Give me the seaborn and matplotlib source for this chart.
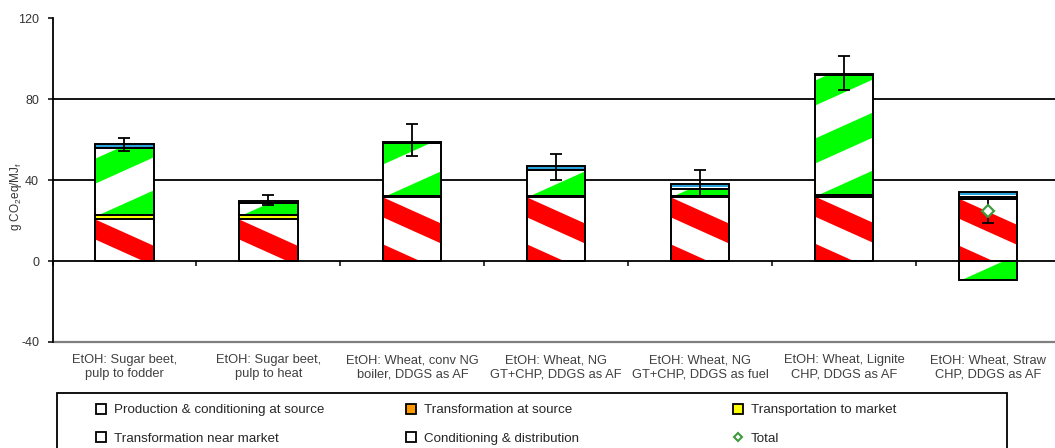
import numpy as np
import pandas as pd
import seaborn as sns
import matplotlib.pyplot as plt
from matplotlib.patches import Polygon, Rectangle
from matplotlib.lines import Line2D

sns.set_style("white")
plt.rcParams["font.family"] = ["Liberation Sans", "DejaVu Sans"]
plt.rcParams["mathtext.default"] = "regular"
plt.rcParams["axes.unicode_minus"] = False

# data (g CO2eq/MJf)
categories = ["EtOH: Sugar beet,\npulp to fodder", "EtOH: Sugar beet,\npulp to heat",
              "EtOH: Wheat, conv NG\nboiler, DDGS as AF", "EtOH: Wheat, NG\nGT+CHP, DDGS as AF",
              "EtOH: Wheat, NG\nGT+CHP, DDGS as fuel", "EtOH: Wheat, Lignite\nCHP, DDGS as AF",
              "EtOH: Wheat, Straw\nCHP, DDGS as AF"]
production = [20.5, 20.5, 31.4, 31.4, 31.4, 31.8, 30.8]
transformation_source = [0, 0, 0, 0, 0, 0, 0]
transport = [2.0, 2.0, 0.6, 0.6, 0.6, 0.6, 0.6]
transformation_market = [33.4, 5.9, 26.2, 13.0, 3.8, 59.4, -9.4]
conditioning = [2.0, 1.0, 0.7, 1.8, 2.4, 0.7, 2.6]
total = [57.5, 29.5, 59.0, 46.0, 38.0, 92.0, 24.5]
total_min = [54.2, 27.6, 52.0, 40.0, 32.0, 84.6, 18.6]
total_max = [60.7, 32.5, 67.5, 53.0, 44.8, 101.0, 31.0]
show_total_marker = [False, False, False, False, False, False, True]
yticks = [-40, 0, 40, 80, 120]

layer_names = ["Production & conditioning at source", "Transformation at source",
               "Transportation to market", "Transformation near market",
               "Conditioning & distribution"]
layer_values = [production, transformation_source, transport, transformation_market, conditioning]
layer_fill = ["white", "#ff9900", "#ffff00", "white", "white"]
# (color, slope, period px, thickness px, anchor) for the striped fills
layer_stripes = [("#ff0000", -0.45, 47, 20, "topleft"), None, None,
                 ("#00ff00", 0.45, 58, 25, "bottomright"),
                 ("#29a3dd", 0.0, 9, 2, "top")]

fig = plt.figure(figsize=(10.55, 4.48), dpi=100)
ax = fig.add_axes([52.5 / 1055, 1 - 342 / 448, 1007.5 / 1055, 324 / 448])

n = len(categories)
pos_base = np.zeros(n)
neg_base = np.zeros(n)
containers = []
bottoms = []
for name, vals, fill in zip(layer_names, layer_values, layer_fill):
    vals = np.array(vals, dtype=float)
    bottom = np.where(vals >= 0, pos_base, neg_base)
    df = pd.DataFrame({"pathway": categories, "value": vals})
    sns.barplot(data=df, x="pathway", y="value", bottom=bottom, width=0.405,
                color=fill, saturation=1, errorbar=None, edgecolor="none",
                linewidth=0, ax=ax, zorder=2)
    containers.append(ax.containers[-1])
    bottoms.append(bottom)
    pos_base = pos_base + np.clip(vals, 0, None)
    neg_base = neg_base + np.clip(vals, None, 0)

ax.set_xlim(-0.5, n - 0.5)
ax.set_ylim(yticks[0], yticks[-1])
ax.set_yticks(yticks)


def add_stripes(patch, color, slope, period, thick, anchor):
    bb = patch.get_window_extent()
    x0, x1, y0, y1 = bb.x0, bb.x1, bb.y0, bb.y1
    w = x1 - x0
    if w <= 0 or y1 - y0 <= 0:
        return
    if anchor == "topleft":
        xa, ya = x0, y1 - thick
    elif anchor == "bottomright":
        xa, ya = x1, y0
    else:
        xa, ya = x0, y1 - 3
    drop = abs(slope) * w
    k0 = int(np.floor((y0 - ya - drop - thick) / period)) - 1
    k1 = int(np.ceil((y1 - ya + drop) / period)) + 1
    inv = ax.transData.inverted()
    for k in range(k0, k1 + 1):
        base = ya + k * period
        la = base + slope * (x0 - xa)
        lb = base + slope * (x1 - xa)
        verts = inv.transform([(x0, la), (x1, lb), (x1, lb + thick), (x0, la + thick)])
        poly = Polygon(verts, closed=True, facecolor=color, edgecolor="none", zorder=2.5)
        ax.add_patch(poly)
        poly.set_clip_path(patch)


for cont, spec in zip(containers, layer_stripes):
    if spec is None:
        continue
    for patch in cont.patches:
        add_stripes(patch, *spec)

# segment outlines
for vals, bottom in zip(layer_values, bottoms):
    df = pd.DataFrame({"pathway": categories, "value": vals})
    sns.barplot(data=df, x="pathway", y="value", bottom=bottom, width=0.405,
                fill=False, color="black", errorbar=None, linewidth=1.4,
                ax=ax, zorder=3)

ax.set_xlim(-0.5, n - 0.5)
ax.set_ylim(yticks[0], yticks[-1])

# totals with min/max range
total_a = np.array(total)
x_pos = np.arange(n)
ax.errorbar(x_pos, total_a,
            yerr=[total_a - np.array(total_min), np.array(total_max) - total_a],
            fmt="none", ecolor="black", elinewidth=1.3, capsize=4, capthick=1.3, zorder=5)
mask = np.array(show_total_marker)
ax.plot(x_pos[mask], total_a[mask], linestyle="none", marker="D", ms=6.5,
        mfc="white", mec="#3f9a3f", mew=1.6, zorder=6)

# grid lines and frame
for t in yticks:
    if yticks[0] < t < yticks[-1] and t != 0:
        ax.axhline(t, color="black", lw=1.3, zorder=1)
ax.axhline(yticks[0], color="#7f7f7f", lw=1.6, clip_on=False, zorder=1)
for side in ["top", "right"]:
    ax.spines[side].set_visible(False)
ax.spines["left"].set_color("black")
ax.spines["left"].set_linewidth(1.3)
ax.spines["bottom"].set_position(("data", 0))
ax.spines["bottom"].set_color("black")
ax.spines["bottom"].set_linewidth(1.3)

ax.set_xticks(x_pos)
ax.set_xticklabels(categories, fontsize=9.3, color="#404040", linespacing=1.25)
ax.set_xticks(np.arange(n + 1) - 0.5, minor=True)
ax.tick_params(axis="x", which="major", length=0, pad=67)
ax.tick_params(axis="x", which="minor", length=3.5, width=1.1, color="black",
               direction="out", bottom=True)
ax.tick_params(axis="y", length=3.6, width=1.1, color="black", direction="out",
               left=True, pad=6, labelsize=9, labelcolor="#333333")
ax.set_xlabel("")
ax.set_ylabel(r"g CO$_2$eq/MJ$_f$", fontsize=8.5, color="#333333")
ax.yaxis.set_label_coords(-0.028, 0.45)

# legend: framed box with three columns
fig.add_artist(Rectangle((57 / 1055, -0.05), 950 / 1055, (1 - 393 / 448) + 0.05,
                         transform=fig.transFigure, fill=False, edgecolor="black",
                         lw=1.3, clip_on=False))


def box(color):
    return Line2D([], [], linestyle="none", marker="s", ms=6.5, mfc=color,
                  mec="black", mew=1.3)


handles = {name: box(c) for name, c in zip(layer_names, layer_fill)}
handles["Total"] = Line2D([], [], linestyle="none", marker="D", ms=4.5,
                          mfc="white", mec="#3f9a3f", mew=1.5)
columns = [(["Production & conditioning at source", "Transformation near market"], 94),
           (["Transformation at source", "Conditioning & distribution"], 404),
           (["Transportation to market", "Total"], 731)]
for labels, xpx in columns:
    fig.legend([handles[l] for l in labels], labels, loc="upper left",
               bbox_to_anchor=(xpx / 1055, 1 - 404 / 448), frameon=False,
               borderpad=0, borderaxespad=0, handlelength=1.0, handletextpad=0.5,
               labelspacing=1.2, fontsize=9.6)

fig.savefig("out.png", dpi=100)
